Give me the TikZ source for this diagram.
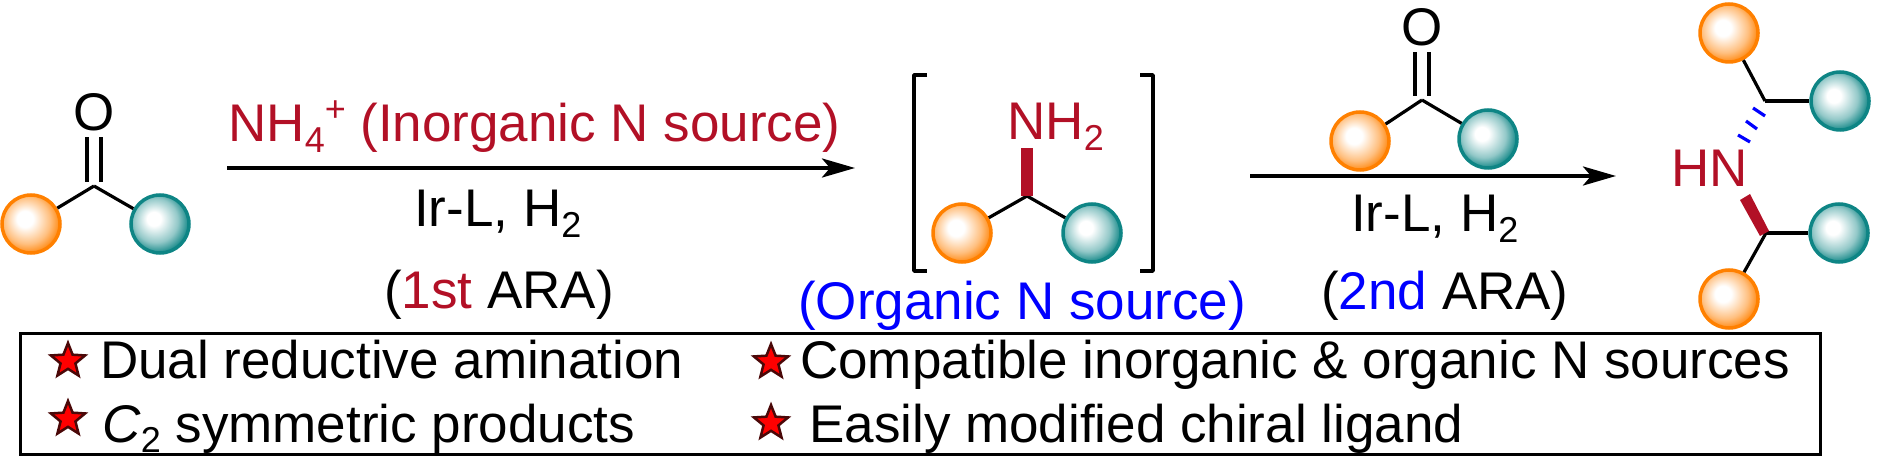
\documentclass[tikz,border=0pt]{standalone}
\usepackage{fontspec}
\usepackage{tikz}
\usetikzlibrary{arrows.meta, shapes.geometric}
\setmainfont{Liberation Sans}

\definecolor{ballorange}{RGB}{255,128,0}
\definecolor{ballteal}{RGB}{14,133,133}
\definecolor{darkred}{RGB}{178,16,38}
\definecolor{starline}{RGB}{74,8,8}

\pgfdeclareradialshading{orangeball}{\pgfpoint{-6bp}{5bp}}{color(0bp)=(white); color(7bp)=(white); color(20bp)=(ballorange!50!white); color(29bp)=(ballorange); color(50bp)=(ballorange)}
\pgfdeclareradialshading{tealball}{\pgfpoint{-6bp}{5bp}}{color(0bp)=(white); color(6bp)=(white); color(19bp)=(ballteal!45!white); color(28bp)=(ballteal); color(50bp)=(ballteal)}

\newcommand{\lowtxt}[1]{\raisebox{-.2em}{\fontsize{36}{36}\selectfont #1}}
\newcommand{\hightxt}[1]{\raisebox{.38em}{\fontsize{36}{36}\selectfont #1}}

\tikzset{
  lbl/.style={inner sep=0, anchor=base west, font=\fontsize{53}{60}\selectfont},
  boxlbl/.style={inner sep=0, anchor=base west, font=\fontsize{53}{60}\selectfont},
  oball/.style={circle, draw=ballorange, line width=3.5pt, minimum size=58pt, inner sep=0, shading=orangeball},
  tball/.style={circle, draw=ballteal, line width=3.5pt, minimum size=58pt, inner sep=0, shading=tealball},
  bond/.style={line width=3.2pt},
  rxn/.style={line width=4pt, -{Stealth[length=33pt, width=19pt, inset=8pt]}},
  brk/.style={line width=3.5pt, line join=round},
  starmark/.style={star, star points=5, star point ratio=2.3, minimum size=36pt, inner sep=0, fill=red, draw=starline, line width=2.5pt},
}

\begin{document}
\begin{tikzpicture}[x=1pt, y=-1pt]
  \useasboundingbox (0,0) rectangle (1878,462);

  \node [lbl, anchor=center] (o1) at (94, 112) {O};
  \coordinate (c1) at (94, 186);
  \node [oball] (or1) at (31, 224) {};
  \node [tball] (te1) at (160, 224) {};
  \draw [bond] (c1) -- (or1);
  \draw [bond] (c1) -- (te1);
  \draw [bond, shorten >=6pt] ([xshift=-7pt, yshift=4pt]c1) -- ([xshift=-7pt]o1.south);
  \draw [bond, shorten >=6pt] ([xshift=7pt, yshift=4pt]c1) -- ([xshift=7pt]o1.south);

  \coordinate (a1s) at (227, 168);
  \coordinate (a1e) at (855, 168);
  \draw [rxn] (a1s) -- (a1e);
  \node [lbl, text=darkred] (nh4) at (228, 142) {NH\lowtxt{4}\hightxt{+} (Inorganic N source)};
  \node [lbl] (cat1) at (414, 227) {Ir-L, H\lowtxt{2}};
  \node [lbl] (ara1) at (384, 308) {({\color{darkred}1st} ARA)};

  \coordinate (bl1) at (927, 75);
  \coordinate (bl2) at (914, 75);
  \coordinate (bl3) at (914, 271);
  \coordinate (bl4) at (927, 271);
  \draw [brk] (bl1) -- (bl2) -- (bl3) -- (bl4);
  \coordinate (br1) at (1140, 75);
  \coordinate (br2) at (1153, 75);
  \coordinate (br3) at (1153, 271);
  \coordinate (br4) at (1140, 271);
  \draw [brk] (br1) -- (br2) -- (br3) -- (br4);

  \node [lbl, text=darkred] (nh2) at (1007, 140) {NH\lowtxt{2}};
  \coordinate (c2) at (1027, 196);
  \coordinate (c2n) at (1027, 148);
  \node [oball] (or2) at (962, 233) {};
  \node [tball] (te2) at (1092, 233) {};
  \draw [bond] (c2) -- (or2);
  \draw [bond] (c2) -- (te2);
  \draw [line width=12pt, darkred] (c2) -- (c2n);
  \node [lbl, text=blue] (orgn) at (798, 319) {(Organic N source)};

  \node [lbl, anchor=center] (o2) at (1422, 27) {O};
  \coordinate (c3) at (1422, 100);
  \node [oball] (or3) at (1360, 141) {};
  \node [tball] (te3) at (1488, 139) {};
  \draw [bond] (c3) -- (or3);
  \draw [bond] (c3) -- (te3);
  \draw [bond, shorten >=6pt] ([xshift=-7pt, yshift=4pt]c3) -- ([xshift=-7pt]o2.south);
  \draw [bond, shorten >=6pt] ([xshift=7pt, yshift=4pt]c3) -- ([xshift=7pt]o2.south);

  \coordinate (a2s) at (1250, 176);
  \coordinate (a2e) at (1616, 176);
  \draw [rxn] (a2s) -- (a2e);
  \node [lbl] (cat2) at (1351, 232) {Ir-L, H\lowtxt{2}};
  \node [lbl] (ara2) at (1321, 309) {({\color{blue}2nd} ARA)};

  \node [lbl, text=darkred] (hn) at (1671, 187) {HN};
  \coordinate (c4) at (1765, 101);
  \node [oball] (or4) at (1729, 33) {};
  \node [tball] (te4) at (1840, 101) {};
  \draw [bond] (c4) -- (or4);
  \draw [bond] (c4) -- (te4);
  \coordinate (h1a) at (1753, 108);
  \coordinate (h1b) at (1765, 116);
  \coordinate (h2a) at (1746, 121);
  \coordinate (h2b) at (1757, 129);
  \coordinate (h3a) at (1738, 135);
  \coordinate (h3b) at (1750, 142);
  \draw [bond, blue] (h1a) -- (h1b);
  \draw [bond, blue] (h2a) -- (h2b);
  \draw [bond, blue] (h3a) -- (h3b);

  \coordinate (c5) at (1766, 233);
  \node [oball] (or5) at (1729, 299) {};
  \node [tball] (te5) at (1839, 233) {};
  \draw [bond] (c5) -- (or5);
  \draw [bond] (c5) -- (te5);
  \coordinate (w1) at (1740, 200);
  \coordinate (w2) at (1750, 194);
  \coordinate (w3) at (1769, 231);
  \coordinate (w4) at (1760, 236);
  \fill [darkred] (w1) -- (w2) -- (w3) -- (w4) -- cycle;

  \coordinate (bx1) at (20, 333);
  \coordinate (bx2) at (1820, 454);
  \draw [line width=3pt] (bx1) rectangle (bx2);

  \node [starmark] (st1) at (68, 361) {};
  \node [starmark] (st2) at (68, 419) {};
  \node [starmark] (st3) at (771, 362) {};
  \node [starmark] (st4) at (771, 423) {};
  \node [boxlbl] (txt1) at (100, 378) {Dual reductive amination};
  \node [boxlbl] (txt2) at (102, 442) {\textit{C}\lowtxt{2} symmetric products};
  \node [boxlbl] (txt3) at (800, 378) {Compatible inorganic \& organic N sources};
  \node [boxlbl] (txt4) at (809, 442) {Easily modified chiral ligand};
\end{tikzpicture}
\end{document}
